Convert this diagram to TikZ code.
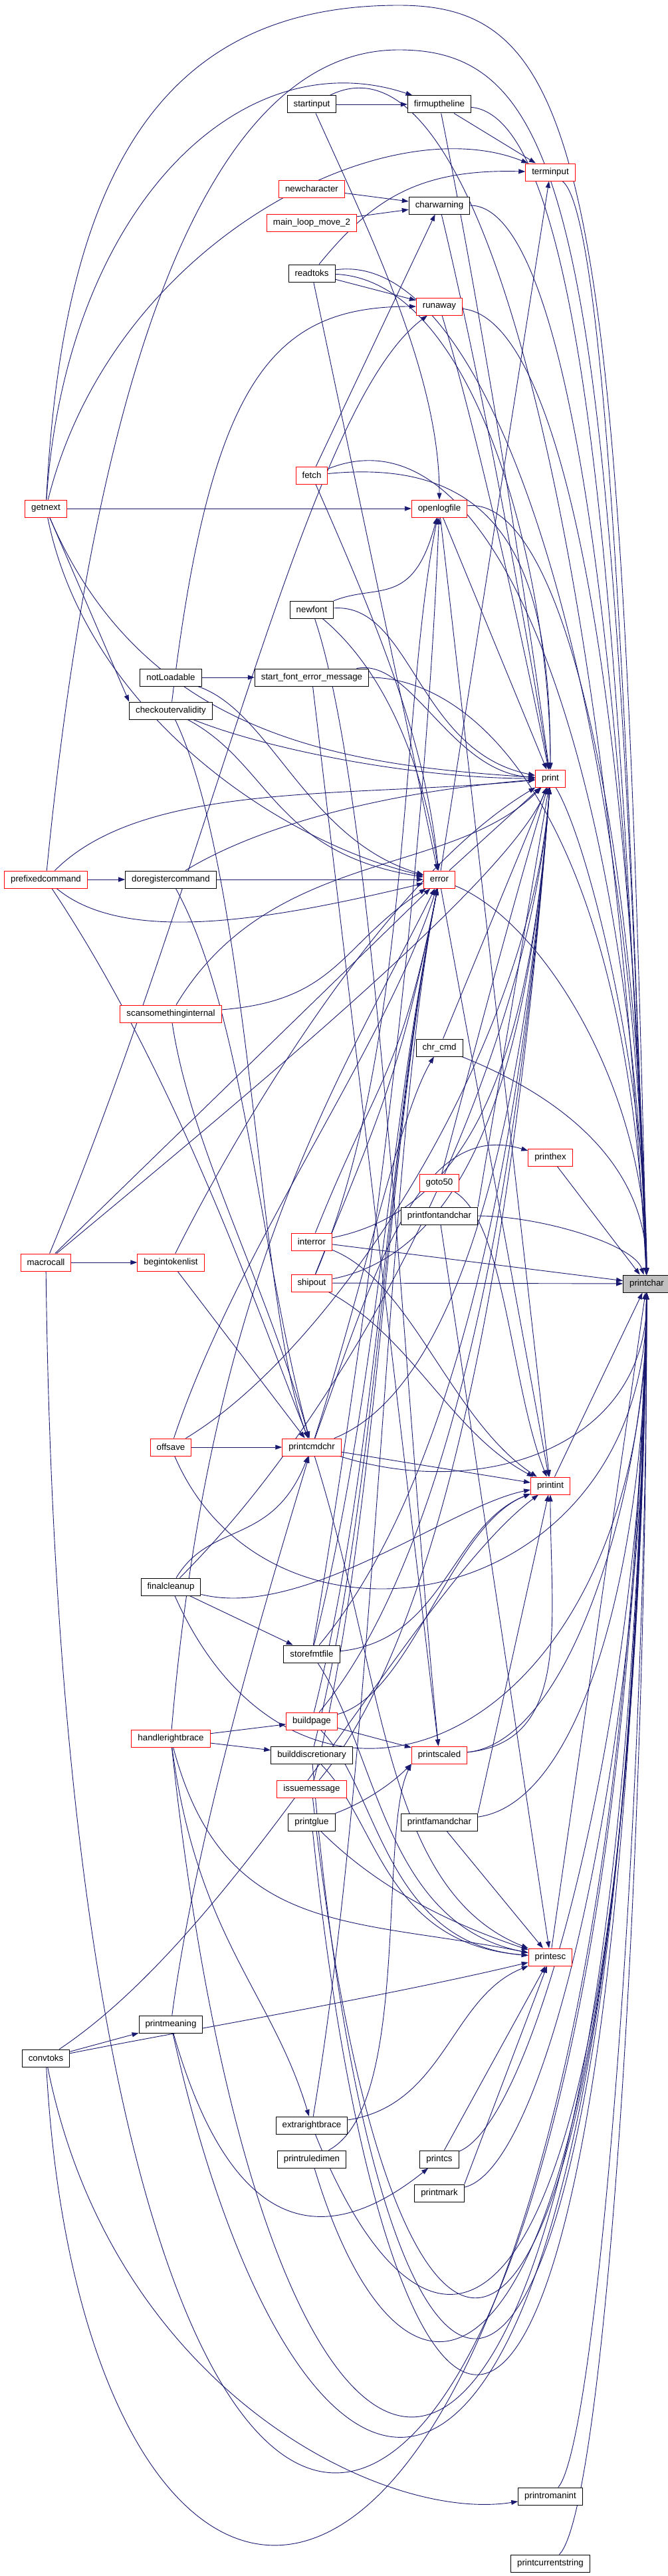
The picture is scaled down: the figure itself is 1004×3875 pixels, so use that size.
\documentclass[tikz,border=0pt]{standalone}
\usepackage{fontspec}
\setmainfont{Liberation Sans}
\usetikzlibrary{arrows.meta}
\definecolor{edgeblue}{RGB}{25,25,112}
\definecolor{boxred}{RGB}{255,0,0}
\definecolor{boxgray}{RGB}{191,191,191}
\pgfdeclarelayer{background}
\pgfsetlayers{background,main}
\tikzset{
  fn/.style={draw=black,fill=white,line width=1pt,minimum height=26pt,
             inner xsep=9.5pt,inner ysep=0pt,font=\fontsize{13.3}{15}\selectfont},
  fnred/.style={fn,draw=boxred},
  fnroot/.style={fn,fill=boxgray},
  arr/.style={-{Triangle[length=10pt,width=7pt]},edgeblue,line width=0.9pt},
}

\begin{document}
\begin{tikzpicture}[x=1pt,y=-1pt]
  \useasboundingbox (0,0) rectangle (1004,3875);
  % callers, far left
  \node[fnred] (getnext) at (69,765) {getnext};
  \node[fnred] (prefixedcommand) at (69,1323) {prefixedcommand};
  \node[fnred] (macrocall) at (69,1899) {macrocall};
  \node[fn] (convtoks) at (69,3096) {convtoks};
  % fourth column
  \node[fn] (notLoadable) at (257,1019) {notLoadable};
  \node[fn] (checkoutervalidity) at (257,1069) {checkoutervalidity};
  \node[fn] (doregistercommand) at (257,1323) {doregistercommand};
  \node[fnred] (scansomethinginternal) at (257,1525) {scansomethinginternal};
  \node[fnred] (begintokenlist) at (257,1899) {begintokenlist};
  \node[fnred] (offsave) at (257,2177) {offsave};
  \node[fn] (finalcleanup) at (257,2387) {finalcleanup};
  \node[fnred] (handlerightbrace) at (257,2615) {handlerightbrace};
  \node[fn] (printmeaning) at (257,3045) {printmeaning};
  % third column
  \node[fn] (startinput) at (469,157) {startinput};
  \node[fnred] (newcharacter) at (469,284) {newcharacter};
  \node[fnred] (mainloopmovetwo) at (469,335) {main\_loop\_move\_2};
  \node[fn] (readtoks) at (469,411) {readtoks};
  \node[fnred] (fetch) at (469,715) {fetch};
  \node[fn] (newfont) at (469,917) {newfont};
  \node[fn] (startfonterror) at (469,1019) {start\_font\_error\_message};
  \node[fnred] (interror) at (469,1868) {interror};
  \node[fnred] (shipout) at (469,1930) {shipout};
  \node[fnred] (printcmdchr) at (469,2177) {printcmdchr};
  \node[fn] (storefmtfile) at (469,2488) {storefmtfile};
  \node[fnred] (buildpage) at (469,2589) {buildpage};
  \node[fn] (builddiscretionary) at (469,2640) {builddiscretionary};
  \node[fnred] (issuemessage) at (469,2691) {issuemessage};
  \node[fn] (printglue) at (469,2741) {printglue};
  \node[fn] (extrarightbrace) at (469,3197) {extrarightbrace};
  \node[fn] (printruledimen) at (469,3248) {printruledimen};
  % second column
  \node[fn] (firmuptheline) at (661,157) {firmuptheline};
  \node[fn] (charwarning) at (661,309) {charwarning};
  \node[fnred] (runaway) at (661,461) {runaway};
  \node[fnred] (openlogfile) at (661,765) {openlogfile};
  \node[fnred] (error) at (661,1323) {error};
  \node[fn] (chrcmd) at (661,1576) {chr\_cmd};
  \node[fnred] (gotofifty) at (661,1779) {goto50};
  \node[fn] (printfontandchar) at (661,1829) {printfontandchar};
  \node[fnred] (printscaled) at (661,2640) {printscaled};
  \node[fn] (printfamandchar) at (661,2741) {printfamandchar};
  \node[fn] (printcs) at (661,3248) {printcs};
  \node[fn] (printmark) at (661,3299) {printmark};
  % first column
  \node[fnred] (terminput) at (828,259) {terminput};
  \node[fnred] (print) at (828,1171) {print};
  \node[fnred] (printhex) at (828,1741) {printhex};
  \node[fnred] (printint) at (828,2235) {printint};
  \node[fnred] (printesc) at (828,2944) {printesc};
  \node[fn] (printromanint) at (828,3755) {printromanint};
  \node[fn] (printcurrentstring) at (828,3856) {printcurrentstring};
  \node[fnroot] (printchar) at (973,1931) {printchar};

  \begin{pgfonlayer}{background}
    \foreach \a/\b in {startinput/firmuptheline,firmuptheline/terminput,
        newcharacter/charwarning,mainloopmovetwo/charwarning,readtoks/runaway,
        fetch/charwarning,readtoks/error,getnext/openlogfile,
        getnext/checkoutervalidity.north west,openlogfile/print,openlogfile/printint,
        error/terminput,error/print,error/printint,chrcmd/print,
        printfontandchar.north east/print,printfontandchar/printesc,
        printfamandchar.north east/printint,printfamandchar/printesc,
        printcs/printesc,printmark.north east/printesc,notLoadable/startfonterror,
        startfonterror/printscaled,interror/printchar,shipout/printchar,
        printhex/printchar,printint/printchar,printesc/printchar,
        printcmdchr/printint,prefixedcommand/doregistercommand,
        doregistercommand/error,macrocall/begintokenlist,macrocall/error,
        begintokenlist/printcmdchr,offsave/printcmdchr,finalcleanup/storefmtfile,
        handlerightbrace/buildpage,handlerightbrace/builddiscretionary,
        convtoks/printmeaning,buildpage/printscaled}
      \draw[arr] (\a) -- (\b);
    % long calls into printchar
    \foreach \a/\b/\ax/\ay/\bx/\by in {
        terminput/printchar/80/60/-30/-900,
        firmuptheline/printchar/220/20/-40/-1000,
        startinput/printchar/260/-130/-60/-1100,
        charwarning/printchar/200/0/-30/-900,
        runaway/printchar/200/20/-20/-800,
        readtoks/printchar/280/-40/-20/-850,
        fetch/printchar/300/-120/-20/-700,
        openlogfile/printchar/200/-20/-10/-600,
        print/printchar/60/100/0/-300,
        error/printchar/150/60/0/-300,
        chrcmd/printchar/150/60/0/-200,
        printfontandchar/printchar/150/0/-20/-60,
        startfonterror/printchar/250/0/-30/-700,
        printscaled/printchar/200/-20/0/300,
        printfamandchar/printchar/220/-30/0/400,
        printcs/printchar/150/-60/0/600,
        printmark/printchar/170/-40/0/650,
        printromanint/printchar/70/-80/0/800,
        printcurrentstring/printchar/80/-80/0/900,
        printcmdchr/printchar/250/80/0/250,
        offsave/printchar/150/350/0/500,
        finalcleanup/printchar/200/450/0/700,
        extrarightbrace/printchar/180/450/-20/1700,
        printruledimen/printchar/150/500/-20/1750,
        issuemessage/printchar/120/1100/-30/1900,
        builddiscretionary/printchar/100/1200/-40/2050,
        printglue/printchar/120/1150/-40/2100,
        printmeaning/printchar/200/900/-30/2150,
        handlerightbrace/printchar/150/1400/-40/2200,
        convtoks/printchar/60/1100/-60/2300,
        macrocall/printchar/30/2500/-50/2300}
      \draw[arr] (\a) .. controls +(\ax,\ay) and +(\bx,\by) .. (\b);
    % the other calls
    \foreach \a/\b/\ax/\ay/\bx/\by in {
        getnext/firmuptheline/30/-450/-300/-100,
        getnext/terminput/100/-400/-250/-100,
        getnext/error/60/300/-250/-60,
        getnext/print/150/350/-300/-20,
        readtoks/terminput/90/-110/-200/-5,
        readtoks/print/250/10/0/-300,
        startinput/openlogfile/90/200/0/-200,
        firmuptheline/print/60/300/-40/-300,
        charwarning/print/60/250/-40/-250,
        runaway/print/60/200/-40/-200,
        fetch/error/110/250/-20/-200,
        fetch/print/300/-30/0/-300,
        newfont/openlogfile/100/-40/-40/150,
        newfont/error/120/100/-20/-150,
        newfont/print/150/-10/-200/-40,
        newfont/printscaled/100/300/-50/-500,
        startfonterror/print/150/-30/-150/-10,
        checkoutervalidity/runaway/60/-500/-250/0,
        checkoutervalidity/error/150/80/-250/-40,
        checkoutervalidity/printcmdchr/120/250/-80/-200,
        checkoutervalidity/print/150/60/-200/0,
        notLoadable/error/150/50/-200/-60,
        prefixedcommand/error/120/100/-250/60,
        prefixedcommand/printcmdchr/200/300/-80/-200,
        prefixedcommand/print/150/-150/-300/30,
        doregistercommand/printcmdchr/110/200/-80/-300,
        doregistercommand/print/130/-80/-250/20,
        scansomethinginternal/error/250/-20/-150/100,
        scansomethinginternal/printcmdchr/30/200/-70/-250,
        scansomethinginternal/print/150/-250/-150/150,
        begintokenlist/print/100/-200/-250/150,
        macrocall/runaway/250/-600/-200/150,
        macrocall/print/300/-250/-60/150,
        gotofifty/print/40/-150/-60/200,
        gotofifty/printint/100/60/-60/-150,
        interror/error/100/-250/-60/300,
        interror/print/250/-50/-30/400,
        interror/printint/150/60/-150/-100,
        shipout/openlogfile/150/-350/-60/300,
        shipout/error/100/-250/-60/300,
        shipout/print/250/-50/-30/400,
        shipout/printint/150/80/-150/-80,
        printcmdchr/chrcmd/80/-250/-60/100,
        printcmdchr/printhex/90/-250/-200/-60,
        printcmdchr/print/250/-100/-30/400,
        printcmdchr/printesc/110/350/-250/-100,
        offsave/error/100/-300/-80/250,
        offsave/print/250/-150/-30/400,
        finalcleanup/printcmdchr/60/-100/-60/150,
        finalcleanup/print/300/-300/-30/400,
        finalcleanup/printint/200/50/-150/30,
        storefmtfile/openlogfile/100/-600/-20/500,
        storefmtfile/error/100/-400/-80/400,
        storefmtfile/print/250/-300/-30/400,
        storefmtfile/printint/200/-20/-150/60,
        storefmtfile/printesc/100/150/-250/-50,
        buildpage/error/100/-400/-80/400,
        buildpage/print/250/-300/-30/400,
        buildpage/printesc/100/100/-250/-20,
        buildpage/printint/150/-40/-150/60,
        builddiscretionary/error/100/-400/-80/400,
        builddiscretionary/printesc/100/100/-250/-20,
        issuemessage/error/100/-400/-80/400,
        issuemessage/print/250/-300/-30/400,
        printglue/printscaled.south west/80/-30/-30/30,
        printglue/printesc/100/100/-150/-50,
        handlerightbrace/extrarightbrace/40/300/-60/-200,
        handlerightbrace/error/60/-700/-150/300,
        handlerightbrace/printesc/80/300/-300/-60,
        printmeaning/printcmdchr/40/-300/-60/200,
        printmeaning/printcs/100/350/-150/120,
        convtoks/printromanint/100/500/-250/40,
        convtoks/printesc/200/-40/-250/60,
        convtoks/printint/300/-200/-200/150,
        extrarightbrace/error/100/-600/-80/400,
        extrarightbrace/printesc/200/-30/-150/60,
        printruledimen/printscaled.south west/150/-80/-50/100,
        printscaled/printint/200/-20/0/200}
      \draw[arr] (\a) .. controls +(\ax,\ay) and +(\bx,\by) .. (\b);
    % the two arcs over the top
    \draw[arr] (getnext) .. controls (95,250) and (250,8) .. (600,8)
      .. controls (880,8) and (935,250) .. (printchar);
    \draw[arr] (prefixedcommand) .. controls (150,500) and (330,75) .. (600,75)
      .. controls (860,75) and (920,350) .. (printchar);
  \end{pgfonlayer}
\end{tikzpicture}
\end{document}
